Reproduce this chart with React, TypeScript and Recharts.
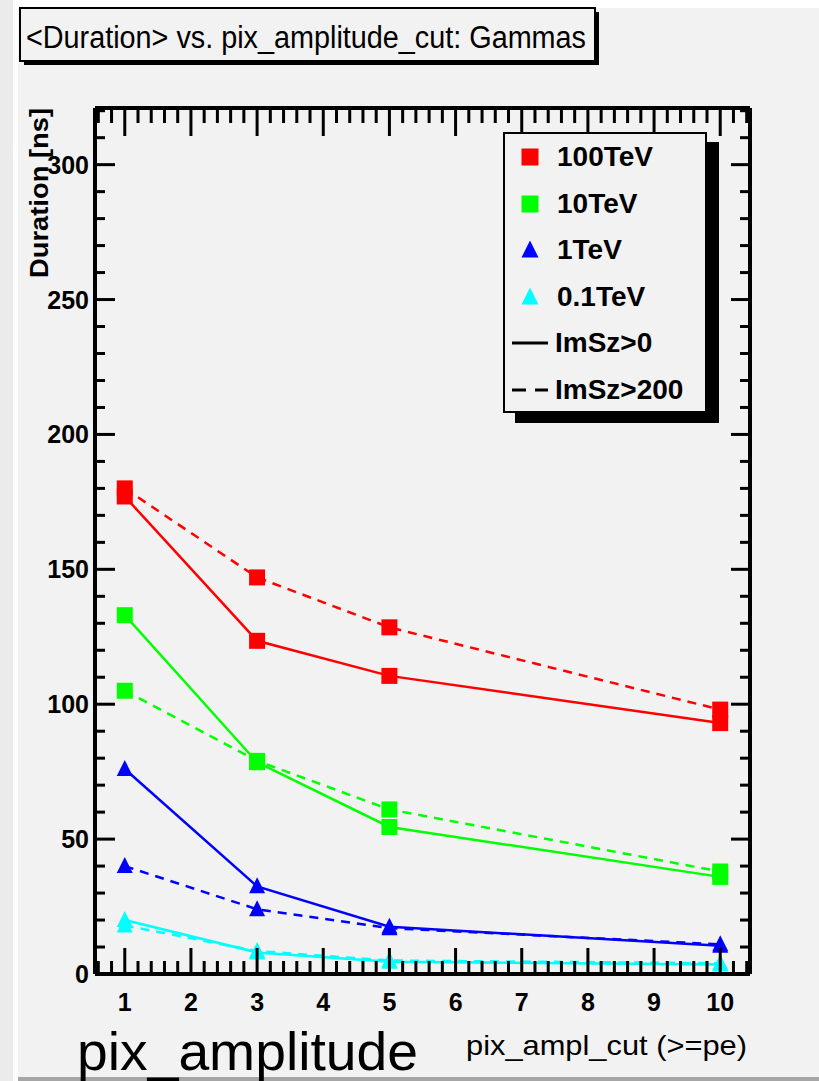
import React from 'react';
import { LineChart, Line, XAxis, YAxis } from 'recharts';

// x positions of the pixel amplitude cuts
const cuts = [1, 3, 5, 10];

// <Duration> [ns], ImSz>0 (solid) and ImSz>200 (dashed)
const e100_all = [177, 123.5, 110.5, 93];
const e100_big = [180, 147, 128.5, 98];
const e10_all = [133, 78.5, 54.5, 36];
const e10_big = [105, 79, 61, 38];
const e1_all = [76, 32.5, 17.5, 10.5];
const e1_big = [40, 24, 17, 11];
const e01_all = [20, 8, 4.5, 3.5];
const e01_big = [18, 8.5, 5, 4];

const xMajorTicks = [1, 2, 3, 4, 5, 6, 7, 8, 9, 10];
const yMajorTicks = [0, 50, 100, 150, 200, 250, 300];

const energies = ['100TeV', '10TeV', '1TeV', '0.1TeV'];
const colors = ['#ff0000', '#00ff00', '#0000ff', '#00ffff'];
const shapes = ['square', 'square', 'triangle', 'triangle'];
const cutLabels = ['ImSz>0', 'ImSz>200'];

const data = cuts.map((c, i) => ({
  x: c,
  e100_all: e100_all[i],
  e100_big: e100_big[i],
  e10_all: e10_all[i],
  e10_big: e10_big[i],
  e1_all: e1_all[i],
  e1_big: e1_big[i],
  e01_all: e01_all[i],
  e01_big: e01_big[i],
}));

const series = [
  { key: 'e100_all', c: 0, dashed: false },
  { key: 'e100_big', c: 0, dashed: true },
  { key: 'e10_all', c: 1, dashed: false },
  { key: 'e10_big', c: 1, dashed: true },
  { key: 'e1_all', c: 2, dashed: false },
  { key: 'e1_big', c: 2, dashed: true },
  { key: 'e01_all', c: 3, dashed: false },
  { key: 'e01_big', c: 3, dashed: true },
];

const xTicks: number[] = [];
for (let i = 3; i <= 52; i++) xTicks.push(Math.round(i * 2) / 10);
const yTicks: number[] = [];
for (let v = 0; v <= 320; v += 10) yTicks.push(v);

const FONT = "'Liberation Sans', Arial, Helvetica, sans-serif";

function Marker({ cx, cy, shape, color, size = 16 }: any) {
  if (cx == null || cy == null) return null;
  const h = size / 2;
  if (shape === 'square') {
    return <rect x={cx - h} y={cy - h} width={size} height={size} fill={color} />;
  }
  return (
    <polygon
      points={`${cx},${cy - h - 1} ${cx + h},${cy + h - 1} ${cx - h},${cy + h - 1}`}
      fill={color}
    />
  );
}

function BottomTick(props: any) {
  const { x, y, payload } = props;
  const v = payload.value;
  const major = Number.isInteger(v);
  return (
    <g>
      <line x1={x} x2={x} y1={y} y2={y - (major ? 26 : 13)} stroke="#000" strokeWidth={3} />
      {major && xMajorTicks.includes(v) && (
        <text x={x} y={y + 37} textAnchor="middle" fontFamily={FONT} fontWeight="bold" fontSize={25} fill="#000">
          {v}
        </text>
      )}
    </g>
  );
}

function TopTick(props: any) {
  const { x, y, payload } = props;
  const major = Number.isInteger(payload.value);
  return <line x1={x} x2={x} y1={y} y2={y + (major ? 28 : 15)} stroke="#000" strokeWidth={3} />;
}

function LeftTick(props: any) {
  const { x, y, payload } = props;
  const v = payload.value;
  const major = v % 50 === 0;
  return (
    <g>
      <line x1={x} x2={x + (major ? 20 : 10)} y1={y} y2={y} stroke="#000" strokeWidth={3} />
      {major && yMajorTicks.includes(v) && (
        <text x={x - 6} y={y + 9} textAnchor="end" fontFamily={FONT} fontWeight="bold" fontSize={25} fill="#000">
          {v}
        </text>
      )}
    </g>
  );
}

function RightTick(props: any) {
  const { x, y, payload } = props;
  const major = payload.value % 50 === 0;
  return <line x1={x} x2={x - (major ? 19 : 10)} y1={y} y2={y} stroke="#000" strokeWidth={3} />;
}

function LegendBox() {
  const rowH = 46.6;
  return (
    <div
      style={{
        position: 'absolute',
        left: 503,
        top: 132,
        width: 204,
        height: 281,
        boxSizing: 'border-box',
        border: '2px solid #000',
        background: '#f2f2f2',
        boxShadow: '12px 10px 0 #000',
        fontFamily: FONT,
        fontWeight: 'bold',
        fontSize: 28,
        color: '#000',
      }}
    >
      {energies.map((name, i) => (
        <div key={name} style={{ position: 'absolute', left: 0, top: 23 + i * rowH - 18, height: 36, display: 'flex', alignItems: 'center' }}>
          <svg width={52} height={36} style={{ display: 'block' }}>
            <Marker cx={25} cy={18} shape={shapes[i]} color={colors[i]} size={17} />
          </svg>
          <span>{name}</span>
        </div>
      ))}
      {cutLabels.map((name, j) => (
        <div key={name} style={{ position: 'absolute', left: 0, top: 23 + (4 + j) * rowH - 18, height: 36, display: 'flex', alignItems: 'center' }}>
          <svg width={50} height={36} style={{ display: 'block' }}>
            <line x1={7} x2={43} y1={18} y2={18} stroke="#000" strokeWidth={3} strokeDasharray={j === 1 ? '14 9' : undefined} />
          </svg>
          <span>{name}</span>
        </div>
      ))}
    </div>
  );
}

export default function App() {
  return (
    <div style={{ position: 'absolute', left: 0, top: 0, width: 819, height: 1081, background: '#f2f2f2', overflow: 'hidden' }}>
      <div style={{ position: 'absolute', left: 0, top: 0, width: 819, height: 8, background: '#fff' }} />
      <div style={{ position: 'absolute', left: 0, top: 0, width: 13, height: 1081, background: '#ebebeb' }} />
      <div style={{ position: 'absolute', left: 13, top: 0, width: 5, height: 1081, background: '#fff' }} />
      <div style={{ position: 'absolute', left: 18, top: 1077, width: 801, height: 4, background: '#a6a6a6' }} />

      <LineChart
        width={819}
        height={1081}
        data={data}
        margin={{ top: 107, right: 68, bottom: 106, left: 94 }}
        style={{ position: 'absolute', left: 0, top: 0 }}
      >
        <XAxis
          dataKey="x"
          type="number"
          domain={[0.55, 10.45]}
          allowDataOverflow
          ticks={xTicks}
          interval={0}
          height={1}
          tickSize={0}
          tickMargin={0}
          tickLine={false}
          axisLine={{ stroke: '#000', strokeWidth: 4 }}
          tick={(p: any) => <BottomTick {...p} />}
        />
        <XAxis
          xAxisId="top"
          orientation="top"
          dataKey="x"
          type="number"
          domain={[0.55, 10.45]}
          allowDataOverflow
          ticks={xTicks}
          interval={0}
          height={1}
          tickSize={0}
          tickMargin={0}
          tickLine={false}
          axisLine={{ stroke: '#000', strokeWidth: 4 }}
          tick={(p: any) => <TopTick {...p} />}
        />
        <YAxis
          type="number"
          domain={[0, 321]}
          allowDataOverflow
          ticks={yTicks}
          interval={0}
          width={1}
          tickSize={0}
          tickMargin={0}
          tickLine={false}
          axisLine={{ stroke: '#000', strokeWidth: 4 }}
          tick={(p: any) => <LeftTick {...p} />}
        />
        <YAxis
          yAxisId="right"
          orientation="right"
          type="number"
          domain={[0, 321]}
          allowDataOverflow
          ticks={yTicks}
          interval={0}
          width={1}
          tickSize={0}
          tickMargin={0}
          tickLine={false}
          axisLine={{ stroke: '#000', strokeWidth: 4 }}
          tick={(p: any) => <RightTick {...p} />}
        />
        {series.map((s) => (
          <Line
            key={s.key}
            type="linear"
            dataKey={s.key}
            stroke={colors[s.c]}
            strokeWidth={2.5}
            strokeDasharray={s.dashed ? '9 7' : undefined}
            isAnimationActive={false}
            dot={(p: any) => <Marker key={`${s.key}-${p.index}`} cx={p.cx} cy={p.cy} shape={shapes[s.c]} color={colors[s.c]} />}
            activeDot={false}
          />
        ))}
      </LineChart>

      <LegendBox />

      <svg width={819} height={1081} style={{ position: 'absolute', left: 0, top: 0, pointerEvents: 'none' }}>
        <rect x={595} y={12} width={4} height={53} fill="#000" />
        <rect x={24} y={61} width={575} height={4} fill="#000" />
        <rect x={20} y={8} width={575} height={53} fill="#f2f2f2" stroke="#000" strokeWidth={2} />
        <text x={26} y={48} fontFamily={FONT} fontSize={31} fill="#000" textLength={560} lengthAdjust="spacingAndGlyphs">
          {'<Duration> vs. pix_amplitude_cut: Gammas'}
        </text>
        <text
          transform="translate(48,108) rotate(-90)"
          textAnchor="end"
          fontFamily={FONT}
          fontWeight="bold"
          fontSize={26}
          fill="#000"
          textLength={170}
          lengthAdjust="spacingAndGlyphs"
        >
          Duration [ns]
        </text>
        <text x={466} y={1055} fontFamily={FONT} fontSize={28} fill="#000" textLength={281} lengthAdjust="spacingAndGlyphs">
          {'pix_ampl_cut (>=pe)'}
        </text>
        <text x={77} y={1070} fontFamily={FONT} fontSize={54} fill="#000" textLength={341} lengthAdjust="spacingAndGlyphs">
          pix_amplitude
        </text>
      </svg>
    </div>
  );
}
